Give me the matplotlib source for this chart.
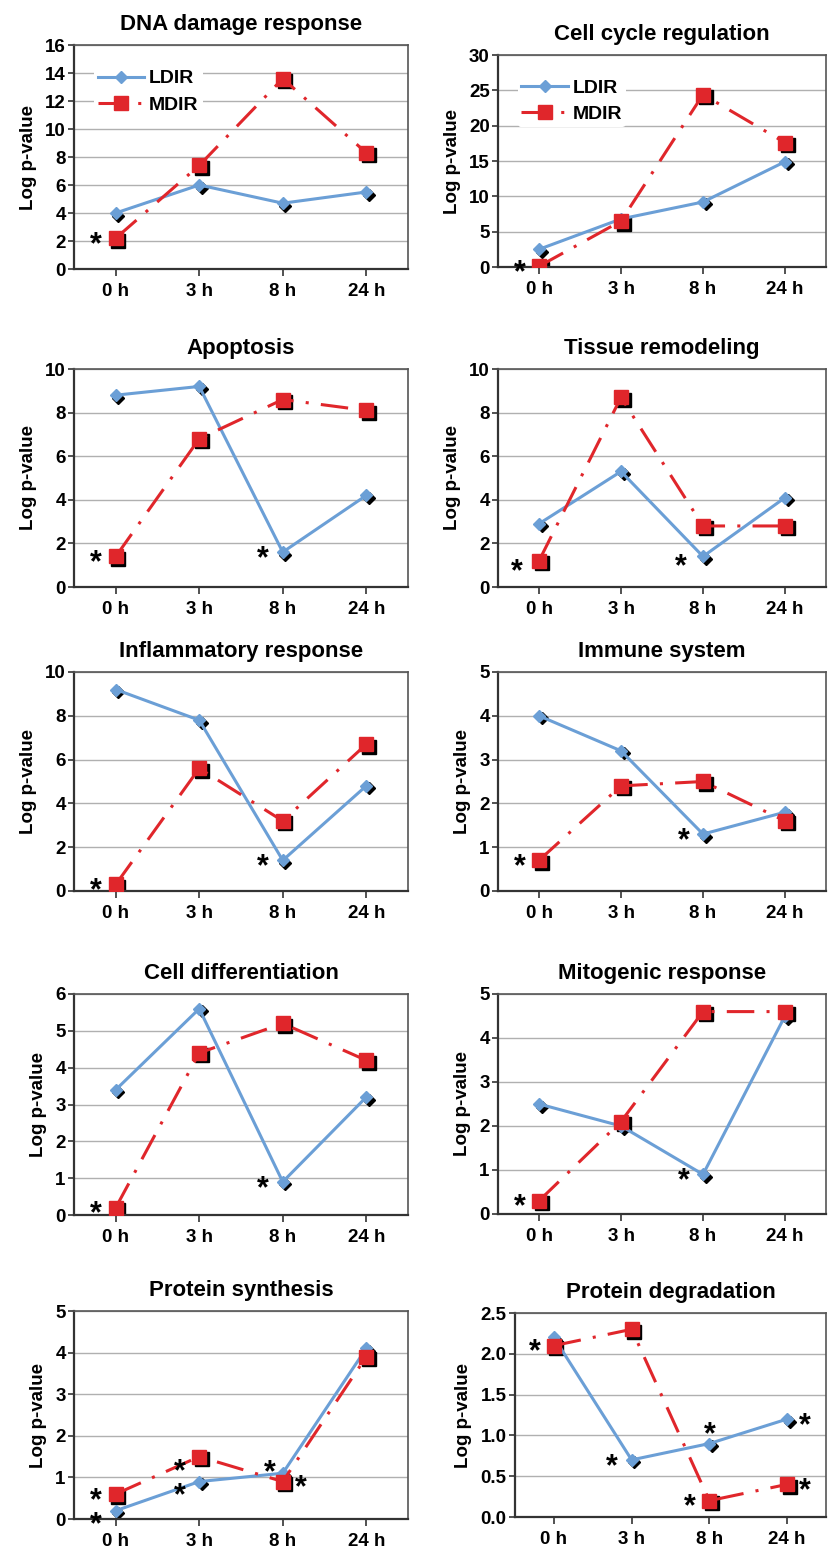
import numpy as np
import matplotlib

matplotlib.use("Agg")
import matplotlib.pyplot as plt
from matplotlib import transforms

plt.rcParams["font.family"] = ["Liberation Sans", "DejaVu Sans"]
plt.rcParams["font.weight"] = "bold"
plt.rcParams["axes.labelweight"] = "bold"

# ---- data ----
times = ["0 h", "3 h", "8 h", "24 h"]

titles = ["DNA damage response", "Cell cycle regulation", "Apoptosis",
          "Tissue remodeling", "Inflammatory response", "Immune system",
          "Cell differentiation", "Mitogenic response", "Protein synthesis",
          "Protein degradation"]

ldir_dna = [4.0, 6.0, 4.7, 5.5]
mdir_dna = [2.2, 7.4, 13.6, 8.3]
ldir_cycle = [2.5, 6.8, 9.2, 14.9]
mdir_cycle = [0.1, 6.5, 24.4, 17.6]
ldir_apop = [8.8, 9.2, 1.6, 4.2]
mdir_apop = [1.4, 6.8, 8.6, 8.1]
ldir_tissue = [2.9, 5.3, 1.4, 4.1]
mdir_tissue = [1.2, 8.7, 2.8, 2.8]
ldir_inflam = [9.2, 7.8, 1.4, 4.8]
mdir_inflam = [0.3, 5.6, 3.2, 6.7]
ldir_immune = [4.0, 3.2, 1.3, 1.8]
mdir_immune = [0.7, 2.4, 2.5, 1.6]
ldir_diff = [3.4, 5.6, 0.9, 3.2]
mdir_diff = [0.2, 4.4, 5.2, 4.2]
ldir_mito = [2.5, 2.0, 0.9, 4.5]
mdir_mito = [0.3, 2.1, 4.6, 4.6]
ldir_psyn = [0.2, 0.9, 1.1, 4.1]
mdir_psyn = [0.6, 1.5, 0.9, 3.9]
ldir_pdeg = [2.2, 0.7, 0.9, 1.2]
mdir_pdeg = [2.1, 2.3, 0.2, 0.4]

ldir_all = [ldir_dna, ldir_cycle, ldir_apop, ldir_tissue, ldir_inflam,
            ldir_immune, ldir_diff, ldir_mito, ldir_psyn, ldir_pdeg]
mdir_all = [mdir_dna, mdir_cycle, mdir_apop, mdir_tissue, mdir_inflam,
            mdir_immune, mdir_diff, mdir_mito, mdir_psyn, mdir_pdeg]

y_max = [16, 30, 10, 10, 10, 5, 6, 5, 5, 2.5]
y_step = [2, 5, 2, 2, 2, 1, 1, 1, 1, 0.5]

# significance stars: (series, time index, where); "LM" = both series, stacked
stars = [
    [("M", 0, "l")],
    [("M", 0, "l")],
    [("M", 0, "l"), ("L", 2, "l")],
    [("M", 0, "ll"), ("L", 2, "ll")],
    [("M", 0, "l"), ("L", 2, "l")],
    [("M", 0, "l"), ("L", 2, "l")],
    [("M", 0, "l"), ("L", 2, "l")],
    [("M", 0, "l"), ("L", 2, "l")],
    [("LM", 0, "l"), ("LM", 1, "l2"), ("L", 2, "ul"), ("M", 2, "r")],
    [("M", 0, "l"), ("L", 1, "l"), ("L", 2, "u"), ("L", 3, "r"),
     ("M", 2, "l"), ("M", 3, "r")],
]
star_offsets = {"l": (-14, 0), "ll": (-16, -3), "l2": (-14, -3), "r": (13, 0),
                "u": (0, 11), "ul": (-9, 5)}

# ---- layout (pixels) ----
W, H = 830, 1553
cols = [(74, 408), (498, 826)]
rows = [[(45, 269), (55, 267)], [(369, 587), (369, 587)], [(672, 891), (672, 891)],
        [(994, 1215), (994, 1214)], [(1311, 1519), (1313, 1517)]]

BLUE = "#6b9fd6"
RED = "#e0262b"

fig = plt.figure(figsize=(W / 100, H / 100), dpi=100)

for i, title in enumerate(titles):
    r, c = divmod(i, 2)
    x0, x1 = cols[c]
    if i == 9:
        x0 = 515
    top, bot = rows[r][c]
    ax = fig.add_axes([x0 / W, 1 - bot / H, (x1 - x0) / W, (bot - top) / H])
    x = np.arange(len(times))
    shadow = transforms.offset_copy(ax.transData, fig=fig, x=2.5, y=-2.5, units="dots")

    ax.plot(x, ldir_all[i], ls="none", marker="D", ms=6, color="black",
            transform=shadow, zorder=2)
    ax.plot(x, mdir_all[i], ls="none", marker="s", ms=10.5, color="black",
            transform=shadow, zorder=2)
    ax.plot(x, ldir_all[i], color=BLUE, lw=2.2, marker="D", ms=6,
            mec=BLUE, label="LDIR", zorder=3)
    ax.plot(x, mdir_all[i], color=RED, lw=2.2, marker="s", ms=10.5, mec=RED,
            dashes=(9, 4, 1, 4), label="MDIR", zorder=4)

    for ser, k, where in stars[i]:
        dx, dy = star_offsets[where]
        if ser == "LM":
            yv = (ldir_all[i][k] + mdir_all[i][k]) / 2
            txt = "*\n*"
            ls = 0.72
            dy -= 8
        else:
            yv = (ldir_all if ser == "L" else mdir_all)[i][k]
            txt = "*"
            ls = 1.2
            dy -= 5
        ax.annotate(txt, (k, yv), xytext=(dx, dy), textcoords="offset points",
                    ha="center", va="center", fontsize=22, color="black",
                    linespacing=ls, zorder=5)

    ax.set_xlim(-0.5, 3.5)
    ax.set_ylim(0, y_max[i])
    ax.set_xticks(x)
    ax.set_xticklabels(times)
    ax.set_yticks(np.arange(0, y_max[i] + y_step[i] / 2, y_step[i]))
    if i == 9:
        ax.set_yticklabels([f"{v:.1f}" for v in ax.get_yticks()])
    ax.tick_params(axis="x", length=5, width=1.2, pad=5, labelsize=13.5, color="#333333")
    ax.tick_params(axis="y", length=4, width=1.2, pad=2, labelsize=13.5, color="#333333")
    ax.yaxis.grid(True, color="#b0b0b0", lw=1)
    ax.set_axisbelow(True)
    for s in ["left", "bottom"]:
        ax.spines[s].set_color("#333333")
        ax.spines[s].set_linewidth(1.6)
    for s in ["top", "right"]:
        ax.spines[s].set_color("#555555")
        ax.spines[s].set_linewidth(1.2)
    ax.set_ylabel("Log p-value", fontsize=13.5, fontweight="bold", labelpad=6)
    ax.set_title(title, fontsize=16, fontweight="bold", pad=11)

    if i < 2:
        ax.legend(loc="upper left", bbox_to_anchor=(0.03, 0.95), fontsize=14,
                  frameon=True, facecolor="white", edgecolor="none", framealpha=1,
                  handlelength=2.4, handletextpad=0.25, labelspacing=0.45,
                  borderpad=0.2, numpoints=1)

fig.savefig("out.png", dpi=100)
